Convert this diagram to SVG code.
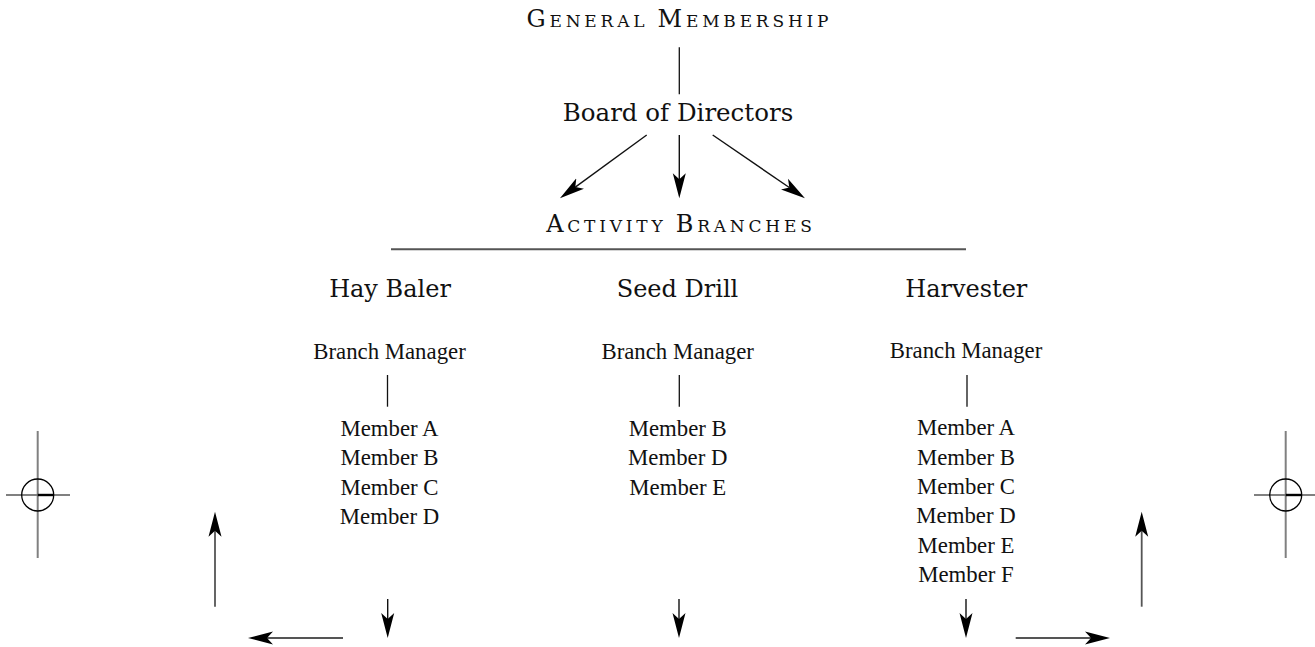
<svg xmlns="http://www.w3.org/2000/svg" width="1315" height="647" viewBox="0 0 1315 647">
<style>
.head{font-family:"DejaVu Serif","Liberation Serif",serif;font-size:24px;fill:#111;text-anchor:middle}
.sc{font-family:"DejaVu Serif","Liberation Serif",serif;font-size:17px;fill:#111;text-anchor:middle;letter-spacing:3.8px}
.big{font-size:24px}
.mem{font-family:"Liberation Serif","Times New Roman",serif;font-size:24px;fill:#111;text-anchor:middle}
.ln{stroke:#111;stroke-width:1.3;fill:none}
.ar{stroke:#111;stroke-width:1.4;fill:none}
.arg{stroke:#555;stroke-width:1.8;fill:none}
.reg{stroke:#808080;stroke-width:2;fill:none}
</style>
<defs>
<marker id="ah" markerUnits="userSpaceOnUse" markerWidth="26" markerHeight="14" viewBox="0 -7 26 14" refX="6" refY="0" orient="auto">
<path d="M25,0 L0,-6.5 L6,0 L0,6.5 Z" fill="#000"/>
</marker>
</defs>

<g id="general-membership">
<text class="sc" x="679.4" y="26.7"><tspan class="big">G</tspan>ENERAL <tspan class="big">M</tspan>EMBERSHIP</text>
</g>
<g id="board-of-directors">
<text class="head" x="678" y="120.7" style="font-size:24.5px">Board of Directors</text>
</g>
<g id="activity-branches">
<text class="sc" x="680.9" y="231.7"><tspan class="big">A</tspan>CTIVITY <tspan class="big">B</tspan>RANCHES</text>
<line x1="391" y1="249.3" x2="966" y2="249.3" stroke="#555" stroke-width="2"/>
</g>

<g id="hay-baler">
<text class="head" x="390" y="297">Hay Baler</text>
<g transform="translate(389.5 0) scale(0.95 1)">
<text class="mem" x="0" y="359">Branch Manager</text>
<text class="mem" x="0" y="435.7">Member A</text>
<text class="mem" x="0" y="465.1">Member B</text>
<text class="mem" x="0" y="494.6">Member C</text>
<text class="mem" x="0" y="524">Member D</text>
</g>
</g>
<g id="seed-drill">
<text class="head" x="677.5" y="297">Seed Drill</text>
<g transform="translate(677.7 0) scale(0.95 1)">
<text class="mem" x="0" y="359">Branch Manager</text>
<text class="mem" x="0" y="435.7">Member B</text>
<text class="mem" x="0" y="465.1">Member D</text>
<text class="mem" x="0" y="494.6">Member E</text>
</g>
</g>
<g id="harvester">
<text class="head" x="966.3" y="297">Harvester</text>
<g transform="translate(966 0) scale(0.95 1)">
<text class="mem" x="0" y="358.5">Branch Manager</text>
<text class="mem" x="0" y="435.3">Member A</text>
<text class="mem" x="0" y="464.7">Member B</text>
<text class="mem" x="0" y="494.1">Member C</text>
<text class="mem" x="0" y="523.5">Member D</text>
<text class="mem" x="0" y="552.9">Member E</text>
<text class="mem" x="0" y="582.3">Member F</text>
</g>
</g>

<g id="connectors">
<line class="ln" x1="679.3" y1="47.3" x2="679.3" y2="94.3"/>
<line class="ar" x1="646.7" y1="135" x2="575.3" y2="187.1" marker-end="url(#ah)"/>
<line class="ar" x1="679.3" y1="135" x2="679.3" y2="179.3" stroke-width="2" marker-end="url(#ah)"/>
<line class="ar" x1="712.7" y1="135" x2="789.3" y2="187.5" marker-end="url(#ah)"/>
<line class="ln" x1="387.5" y1="375" x2="387.5" y2="406.7"/>
<line class="ln" x1="679.3" y1="375" x2="679.3" y2="406.7"/>
<line class="ln" x1="967" y1="375" x2="967" y2="406.7"/>
<line class="ar" x1="387.7" y1="599" x2="387.7" y2="619" marker-end="url(#ah)"/>
<line class="ar" x1="679" y1="599" x2="679" y2="619" marker-end="url(#ah)"/>
<line class="ar" x1="966" y1="599" x2="966" y2="619" marker-end="url(#ah)"/>
<line class="arg" x1="215" y1="606.7" x2="215" y2="530.7" marker-end="url(#ah)"/>
<line class="arg" x1="343" y1="638" x2="267" y2="638" marker-end="url(#ah)"/>
<line class="arg" x1="1015.7" y1="638" x2="1091" y2="638" stroke="#333" marker-end="url(#ah)"/>
<line class="arg" x1="1141.7" y1="606.7" x2="1141.7" y2="530.7" marker-end="url(#ah)"/>
</g>

<g id="registration-left">
<line class="reg" x1="37.7" y1="431" x2="37.7" y2="558"/>
<line class="reg" x1="6" y1="495" x2="70" y2="495"/>
<line x1="37.7" y1="495" x2="53.7" y2="495" stroke="#000" stroke-width="2.4"/>
<circle cx="37.7" cy="495" r="16" fill="none" stroke="#000" stroke-width="1.3"/>
</g>
<g id="registration-right">
<line class="reg" x1="1285.7" y1="431" x2="1285.7" y2="558"/>
<line class="reg" x1="1254" y1="495" x2="1318" y2="495"/>
<line x1="1285.7" y1="495" x2="1301.7" y2="495" stroke="#000" stroke-width="2.4"/>
<circle cx="1285.7" cy="495" r="16" fill="none" stroke="#000" stroke-width="1.3"/>
</g>
</svg>
